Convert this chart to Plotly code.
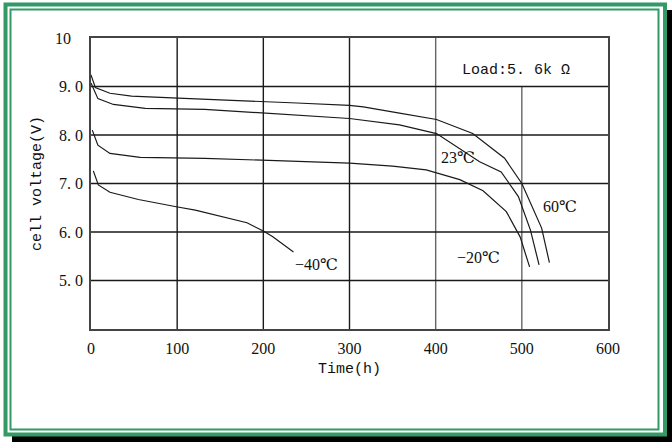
import plotly.graph_objects as go

# ---- data ----
t_60 = [0, 5, 22, 47, 101, 132, 200, 239, 300, 316, 358, 401, 443, 480, 500, 523, 532]
v_60 = [9.24, 8.98, 8.86, 8.80, 8.76, 8.74, 8.69, 8.66, 8.61, 8.58, 8.45, 8.32, 8.03, 7.52, 7.00, 6.08, 5.37]

t_23 = [0, 8, 26, 63, 132, 200, 300, 358, 378, 401, 451, 476, 496, 510, 520]
v_23 = [9.07, 8.75, 8.63, 8.55, 8.53, 8.45, 8.34, 8.21, 8.12, 8.03, 7.45, 7.24, 6.73, 6.04, 5.32]

t_m20 = [1.5, 8, 22, 57, 132, 200, 300, 350, 389, 428, 455, 482, 498, 509]
v_m20 = [8.10, 7.79, 7.62, 7.54, 7.52, 7.48, 7.42, 7.36, 7.28, 7.08, 6.85, 6.42, 5.90, 5.28]

t_m40 = [2.7, 8.5, 22, 55, 99, 121, 181, 201, 211, 235]
v_m40 = [7.26, 6.97, 6.82, 6.67, 6.52, 6.45, 6.19, 6.01, 5.90, 5.59]

series_labels = ["60℃", "23℃", "−20℃", "−40℃"]

x_ticks = [0, 100, 200, 300, 400, 500, 600]
x_ticktext = ["0", "100", "200", "300", "400", "500", "600"]
y_ticks = [5, 6, 7, 8, 9, 10]
y_ticktext = ["5. 0", "6. 0", "7. 0", "8. 0", "9. 0", "10\u00a0\u00a0\u00a0"]

x_grid_full = [100, 200, 300, 400]
x_grid_full_colors = ["#1a1a1a", "#1a1a1a", "#1a1a1a", "#666"]
x_grid_short = [500]
y_grid = [5, 6, 7, 8, 9]

load_text = "Load:5. 6k Ω"

# ---- layout constants ----
W, H = 672, 442
ML, MR, MT, MB = 91, 64, 38, 113
PW, PH = W - ML - MR, H - MT - MB
SERIF = "Liberation Serif, DejaVu Serif, serif"
MONO = "Liberation Mono, DejaVu Sans Mono, monospace"
GREEN = "#339966"


def px(x):
    return (x - ML) / PW


def py(y):
    return (H - MB - y) / PH


fig = go.Figure()
curve_sets = [(t_60, v_60), (t_23, v_23), (t_m20, v_m20), (t_m40, v_m40)]
for (tt, vv), name in zip(curve_sets, series_labels):
    fig.add_trace(go.Scatter(x=tt, y=vv, mode="lines", name=name,
                             line=dict(color="#1a1a1a", width=1.2),
                             showlegend=False, hoverinfo="skip"))

shapes = []
for gx, gc in zip(x_grid_full, x_grid_full_colors):
    shapes.append(dict(type="line", xref="x", yref="y", x0=gx, x1=gx, y0=4, y1=10,
                       line=dict(color=gc, width=1.4), layer="below"))
for gx in x_grid_short:
    shapes.append(dict(type="line", xref="x", yref="y", x0=gx, x1=gx, y0=4, y1=9,
                       line=dict(color="#666", width=1.4), layer="below"))
for gy in y_grid:
    shapes.append(dict(type="line", xref="x", yref="y", x0=0, x1=600, y0=gy, y1=gy,
                       line=dict(color="#1a1a1a", width=1.3), layer="below"))

# frame: black shadow, outer green, inner green
shapes.append(dict(type="rect", xref="paper", yref="paper", x0=px(666), x1=px(673),
                   y0=py(10), y1=py(443), fillcolor="black", line=dict(width=0)))
shapes.append(dict(type="rect", xref="paper", yref="paper", x0=px(12), x1=px(673),
                   y0=py(436), y1=py(443), fillcolor="black", line=dict(width=0)))
shapes.append(dict(type="rect", xref="paper", yref="paper", x0=px(5.5), x1=px(665),
                   y0=py(4.5), y1=py(434.5), line=dict(color=GREEN, width=4)))
shapes.append(dict(type="rect", xref="paper", yref="paper", x0=px(10.5), x1=px(658.5),
                   y0=py(9.5), y1=py(429.5), line=dict(color=GREEN, width=2)))

annotations = [
    dict(x=493, y=9.32, text=load_text, font=dict(size=15, family=MONO)),
    dict(x=426, y=7.53, text=series_labels[1], font=dict(size=16, family=SERIF)),
    dict(x=544, y=6.52, text=series_labels[0], font=dict(size=16, family=SERIF)),
    dict(x=450, y=5.48, text=series_labels[2], font=dict(size=16, family=SERIF)),
    dict(x=262, y=5.32, text=series_labels[3], font=dict(size=16, family=SERIF)),
]
for a in annotations:
    a.update(xref="x", yref="y", showarrow=False)
    a["font"].update(color="#111")

fig.update_layout(
    width=W, height=H,
    margin=dict(l=ML, r=MR, t=MT, b=MB, pad=0),
    paper_bgcolor="white", plot_bgcolor="white",
    font=dict(family=SERIF, color="#111", size=16),
    shapes=shapes, annotations=annotations,
    xaxis=dict(range=[0, 600], tickvals=x_ticks, ticktext=x_ticktext,
               showgrid=False, zeroline=False, showline=True, mirror=True,
               linecolor="#444", linewidth=1.5, ticks="", ticklabelstandoff=4,
               tickfont=dict(size=16, family=SERIF),
               title=dict(text="Time(h)", font=dict(size=15, family=MONO), standoff=7)),
    yaxis=dict(range=[4, 10], tickvals=y_ticks, ticktext=y_ticktext,
               showgrid=False, zeroline=False, showline=True, mirror=True,
               linecolor="#444", linewidth=1.5, ticks="", ticklabelstandoff=3,
               tickfont=dict(size=16, family=SERIF),
               title=dict(text="cell voltage(V)", font=dict(size=15, family=MONO), standoff=10)),
)

fig.write_html("out.html", config={"displayModeBar": False},
               post_script="document.body.style.margin='0px';document.body.style.overflow='hidden';")
